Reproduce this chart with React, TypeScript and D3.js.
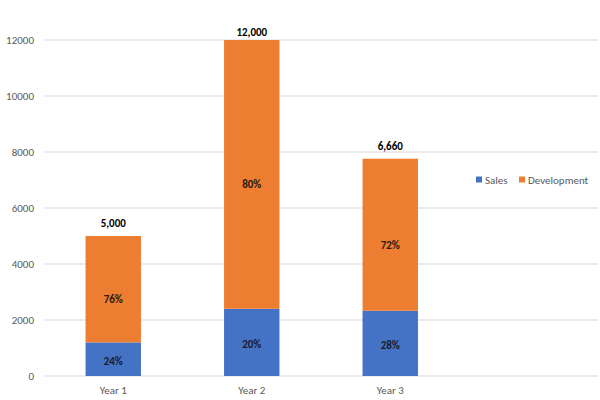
import React from "react";
import * as d3 from "d3";

const categories = ["Year 1", "Year 2", "Year 3"];
const salesValues = [1200, 2400, 2330];
const developmentValues = [3800, 9600, 5430];
const totalLabels = ["5,000", "12,000", "6,660"];
const salesPctLabels = ["24%", "20%", "28%"];
const devPctLabels = ["76%", "80%", "72%"];
const yTicks = [0, 2000, 4000, 6000, 8000, 10000, 12000];
const seriesNames = ["Sales", "Development"];
const colors = ["#4472C4", "#ED7D31"];

export default function App() {
  const width = 600;
  const height = 400;
  const left = 44;
  const right = 598;
  const top = 40;
  const bottom = 376;
  const step = (right - left) / 4;

  const x = d3
    .scaleBand<string>()
    .domain(categories)
    .range([left, left + step * 3])
    .paddingInner(0.6)
    .paddingOuter(0.3);
  const y = d3.scaleLinear().domain([0, 12000]).range([bottom, top]);

  const font = "Carlito, 'Liberation Sans', Arial, sans-serif";

  return (
    <svg
      width={width}
      height={height}
      style={{ position: "absolute", left: 0, top: 0, background: "#fff" }}
      fontFamily={font}
    >
      {yTicks.map((t) => (
        <g key={t}>
          <line
            x1={left}
            x2={right}
            y1={y(t)}
            y2={y(t)}
            stroke="#d9d9d9"
            strokeWidth={1}
          />
          <text
            x={34}
            y={y(t)}
            dy="0.35em"
            textAnchor="end"
            fontSize={11}
            fill="#595959"
          >
            {t}
          </text>
        </g>
      ))}
      {categories.map((c, i) => {
        const bx = x(c)!;
        const bw = x.bandwidth();
        const s = salesValues[i];
        const d = developmentValues[i];
        const cx = bx + bw / 2;
        return (
          <g key={c}>
            <rect x={bx} y={y(s)} width={bw} height={y(0) - y(s)} fill={colors[0]} />
            <rect x={bx} y={y(s + d)} width={bw} height={y(s) - y(s + d)} fill={colors[1]} />
            <text x={cx} y={(y(0) + y(s)) / 2 + 2} dy="0.35em" textAnchor="middle" fontSize={11} fontWeight="bold" fill="#1a1a2e">
              {salesPctLabels[i]}
            </text>
            <text x={cx} y={(y(s) + y(s + d)) / 2 + 10} dy="0.35em" textAnchor="middle" fontSize={11} fontWeight="bold" fill="#2a1a10">
              {devPctLabels[i]}
            </text>
            <text x={cx} y={Math.max(y(s + d) - 9, 36)} textAnchor="middle" fontSize={11} fontWeight="bold" fill="#000">
              {totalLabels[i]}
            </text>
            <text x={cx} y={394} textAnchor="middle" fontSize={11} fill="#595959">
              {c}
            </text>
          </g>
        );
      })}
      <g transform="translate(476,180)">
        {seriesNames.map((n, i) => {
          const ox = i === 0 ? 0 : 43;
          return (
            <g key={n} transform={`translate(${ox},0)`}>
              <rect x={0} y={-3.5} width={6} height={6} fill={colors[i]} />
              <text x={9} y={0} dy="0.35em" fontSize={11} fill="#595959">
                {n}
              </text>
            </g>
          );
        })}
      </g>
    </svg>
  );
}
